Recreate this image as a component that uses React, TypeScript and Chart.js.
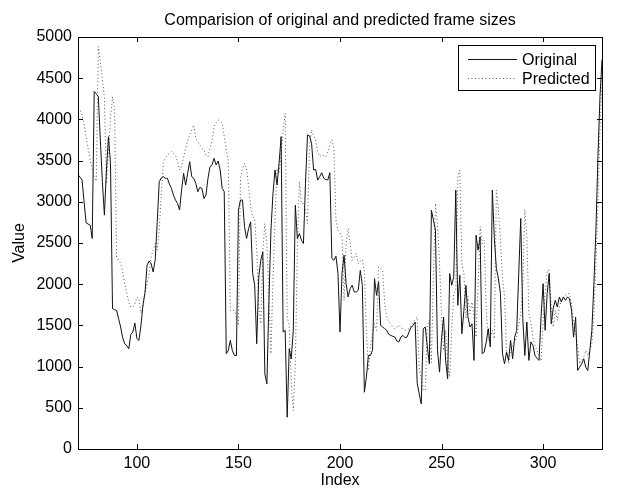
import React, { useEffect, useRef } from 'react';
import { Chart, registerables } from 'chart.js';

Chart.register(...registerables);

const chartTitle = 'Comparision of original and predicted frame sizes';
const xAxisTitle = 'Index';
const yAxisTitle = 'Value';
const seriesNames = ['Original', 'Predicted'];

const startIndex = 71;
const xTicks = [100, 150, 200, 250, 300];
const yTicks = [0, 500, 1000, 1500, 2000, 2500, 3000, 3500, 4000, 4500, 5000];

const original = [
  3330, 3300, 3264, 3000, 2745, 2730, 2717, 2555, 4339, 4310,
  4278, 3750, 3250, 2838, 3386, 3791, 3467, 1703, 1690, 1683,
  1580, 1480, 1350, 1277, 1257, 1216, 1391, 1419, 1529, 1340,
  1318, 1500, 1750, 1900, 2230, 2280, 2250, 2149, 2291, 2750,
  3244, 3290, 3305, 3285, 3285, 3216, 3163, 3080, 3021, 2980,
  2900, 3143, 3345, 3203, 3345, 3487, 3305, 3285, 3224, 3122,
  3175, 3163, 3041, 3082, 3285, 3426, 3447, 3528, 3447, 3495,
  3386, 3163, 3122, 1156, 1196, 1318, 1196, 1135, 1135, 2900,
  3021, 3021, 2697, 2555, 2676, 2757, 2129, 1987, 1277, 2088,
  2291, 2392, 912, 791, 1800, 2656, 3100, 3386, 3203, 3467,
  3791, 1419, 1440, 385, 1216, 1095, 1440, 2960, 2555, 2615,
  2534, 2494, 3224, 3812, 3800, 3710, 3386, 3394, 3264, 3305,
  3353, 3285, 3270, 3264, 3353, 2311, 2291, 2340, 2130, 1419,
  2129, 2352, 2007, 1845, 1946, 1987, 1906, 1906, 1926, 2169,
  1987, 689, 872, 1135, 1135, 1196, 2068, 1865, 2028, 1500,
  1480, 1460, 1440, 1391, 1379, 1367, 1358, 1310, 1300, 1360,
  1379, 1350, 1358, 1419, 1480, 1500, 1541, 800, 669, 547,
  1460, 1480, 1237, 1034, 2900, 2778, 2656, 1200, 933, 1338,
  1602, 1075, 852, 2129, 1987, 2088, 3143, 1744, 2109, 1399,
  1683, 1987, 1602, 1480, 1520, 1075, 2595, 2413, 2575, 1156,
  1176, 1300, 1460, 1240, 3143, 2555, 2190, 2068, 1886, 1156,
  1034, 1176, 1075, 1318, 1095, 1358, 1440, 2129, 2798, 1581,
  1135, 1541, 1075, 1300, 1257, 1135, 1100, 1075, 1610, 2007,
  1440, 1886, 2129, 1520, 1710, 1804, 1723, 1845, 1784, 1845,
  1804, 1845, 1825, 1683, 1358, 1602, 953, 993, 1034, 1095,
  993, 953, 1196, 1440, 2000, 2656, 3548, 4278, 4724,
];

const predicted = [
  4124, 4124, 4050, 3950, 3780, 3650, 3508, 3400, 3300, 3250,
  4886, 4700, 4500, 4258, 3224, 3600, 4014, 4278, 4116, 2330,
  2291, 2250, 2150, 2000, 1900, 1780, 1723, 1723, 1760, 1845,
  1820, 1650, 1723, 1900, 2007, 2129, 2332, 2413, 2494, 2413,
  2656, 3102, 3467, 3530, 3568, 3590, 3609, 3590, 3568, 3487,
  3386, 3430, 3548, 3650, 3750, 3812, 3872, 3933, 3771, 3730,
  3690, 3650, 3629, 3568, 3548, 3650, 3731, 3913, 3960, 3994,
  3980, 3954, 3791, 3629, 3500, 1683, 1683, 1683, 1602, 1500,
  3300, 3400, 3467, 3400, 3183, 2940, 2818, 2798, 2400, 1723,
  1520, 2400, 2737, 2494, 1845, 1156, 2048, 2800, 3400, 3350,
  3600, 3850, 4075, 1600, 1500, 800, 466, 1034, 2400, 3244,
  2980, 2980, 2900, 2737, 3670, 3872, 3800, 3751, 3600, 3548,
  3568, 3560, 3548, 3609, 3700, 3751, 3650, 2780, 2656, 2620,
  2575, 1804, 2500, 2676, 2494, 2291, 2330, 2372, 2250, 2280,
  2300, 2150, 1440, 953, 1237, 1400, 1520, 1440, 2210, 2190,
  2169, 1764, 1602, 1550, 1520, 1480, 1460, 1480, 1500, 1480,
  1450, 1440, 1450, 1460, 1500, 1540, 1580, 1600, 1000, 850,
  720, 710, 1500, 1561, 1050, 2100, 2980, 2737, 2250, 1642,
  1196, 1440, 1034, 872, 1440, 1886, 1926, 3305, 3386, 2250,
  2130, 1580, 1850, 1642, 1784, 1602, 1358, 2000, 2700, 2494,
  2535, 1700, 1318, 1358, 1440, 1338, 3143, 2900, 2535, 2088,
  1845, 1196, 1034, 1196, 1250, 1300, 1358, 1500, 1650, 2007,
  2900, 2575, 1642, 1540, 1350, 1250, 1196, 1130, 1075, 1561,
  1886, 2169, 2169, 1723, 1480, 1683, 1561, 1723, 1804, 1845,
  1870, 1886, 1886, 1764, 1561, 1400, 1250, 1034, 1080, 1115,
  1196, 1135, 1196, 1277, 1602, 2250, 2980, 3870, 4480,
];

const FONT = '"Liberation Sans", Arial, Helvetica, sans-serif';

const toPoints = (values: number[]) => values.map((v, i) => ({ x: startIndex + i, y: v }));

const framePlugin = {
  id: 'matlabFrame',
  afterDraw(chart: any) {
    const { ctx, chartArea } = chart;
    const { left, right, top, bottom } = chartArea;
    const xs = chart.scales.x;
    const ys = chart.scales.y;
    ctx.save();
    ctx.strokeStyle = '#000';
    ctx.lineWidth = 1;
    // frame
    ctx.strokeRect(Math.round(left) + 0.5, Math.round(top) + 0.5, Math.round(right - left), Math.round(bottom - top));
    // inward ticks
    const tl = 5;
    ctx.beginPath();
    xTicks.forEach((v) => {
      const px = Math.round(xs.getPixelForValue(v)) + 0.5;
      ctx.moveTo(px, bottom);
      ctx.lineTo(px, bottom - tl);
      ctx.moveTo(px, top);
      ctx.lineTo(px, top + tl);
    });
    yTicks.forEach((v) => {
      const py = Math.round(ys.getPixelForValue(v)) + 0.5;
      ctx.moveTo(left, py);
      ctx.lineTo(left + tl, py);
      ctx.moveTo(right, py);
      ctx.lineTo(right - tl, py);
    });
    ctx.stroke();

    // title
    ctx.fillStyle = '#000';
    ctx.font = `16px ${FONT}`;
    ctx.textAlign = 'center';
    ctx.textBaseline = 'middle';
    ctx.fillText(chartTitle, (left + right) / 2, 21);
    // axis titles
    ctx.fillText(xAxisTitle, (left + right) / 2, 481);
    ctx.save();
    ctx.translate(20, (top + bottom) / 2);
    ctx.rotate(-Math.PI / 2);
    ctx.fillText(yAxisTitle, 0, 0);
    ctx.restore();

    // legend
    const bx = 458.5, by = 45.5, bw = 137, bh = 45;
    ctx.fillStyle = '#fff';
    ctx.fillRect(bx, by, bw, bh);
    ctx.strokeStyle = '#000';
    ctx.lineWidth = 1;
    ctx.strokeRect(bx, by, bw, bh);
    const rows = [59.5, 78.5];
    chart.data.datasets.forEach((ds: any, i: number) => {
      ctx.save();
      ctx.strokeStyle = ds.borderColor;
      ctx.lineWidth = 1;
      ctx.setLineDash(ds.borderDash || []);
      ctx.beginPath();
      ctx.moveTo(468, rows[i]);
      ctx.lineTo(517, rows[i]);
      ctx.stroke();
      ctx.restore();
      ctx.fillStyle = '#000';
      ctx.font = `16px ${FONT}`;
      ctx.textAlign = 'left';
      ctx.textBaseline = 'middle';
      ctx.fillText(ds.label, 522, rows[i] + 1);
    });
    ctx.restore();
  },
};

export default function App() {
  const ref = useRef<HTMLCanvasElement>(null);
  useEffect(() => {
    document.body.style.margin = '0';
    const canvas = ref.current as HTMLCanvasElement;
    const chart = new Chart(canvas, {
      type: 'line',
      data: {
        datasets: [
          {
            label: seriesNames[0],
            data: toPoints(original),
            borderColor: '#111',
            borderWidth: 1,
            pointRadius: 0,
            tension: 0,
            fill: false,
          },
          {
            label: seriesNames[1],
            data: toPoints(predicted),
            borderColor: '#555',
            borderWidth: 1,
            borderDash: [1, 2.5],
            pointRadius: 0,
            tension: 0,
            fill: false,
          },
        ],
      },
      options: {
        responsive: false,
        animation: false,
        devicePixelRatio: 1,
        layout: { padding: { top: 37, right: 15, bottom: 0, left: 0 } },
        plugins: {
          legend: { display: false },
          title: { display: false },
          tooltip: { enabled: false },
        },
        scales: {
          x: {
            type: 'linear',
            min: startIndex,
            max: startIndex + original.length - 1,
            afterFit: (s: any) => { s.height = 42; },
            afterBuildTicks: (s: any) => { s.ticks = xTicks.map((value) => ({ value })); },
            grid: { display: false, drawTicks: false },
            border: { display: false },
            ticks: {
              color: '#000',
              font: { family: FONT, size: 16 },
              padding: 5,
              maxRotation: 0,
              autoSkip: false,
              callback: (v: any) => String(v),
            },
          },
          y: {
            type: 'linear',
            min: 0,
            max: 5000,
            afterFit: (s: any) => { s.width = 78; },
            afterBuildTicks: (s: any) => { s.ticks = yTicks.map((value) => ({ value })); },
            grid: { display: false, drawTicks: false },
            border: { display: false },
            ticks: {
              color: '#000',
              font: { family: FONT, size: 16 },
              padding: 6,
              autoSkip: false,
              callback: (v: any) => String(v),
            },
          },
        },
      },
      plugins: [framePlugin],
    } as any);
    return () => chart.destroy();
  }, []);
  return (
    <div style={{ position: 'absolute', left: 0, top: 0, width: 617, height: 491, background: '#fff' }}>
      <canvas ref={ref} width={617} height={491} style={{ width: 617, height: 491, display: 'block' }} />
    </div>
  );
}
